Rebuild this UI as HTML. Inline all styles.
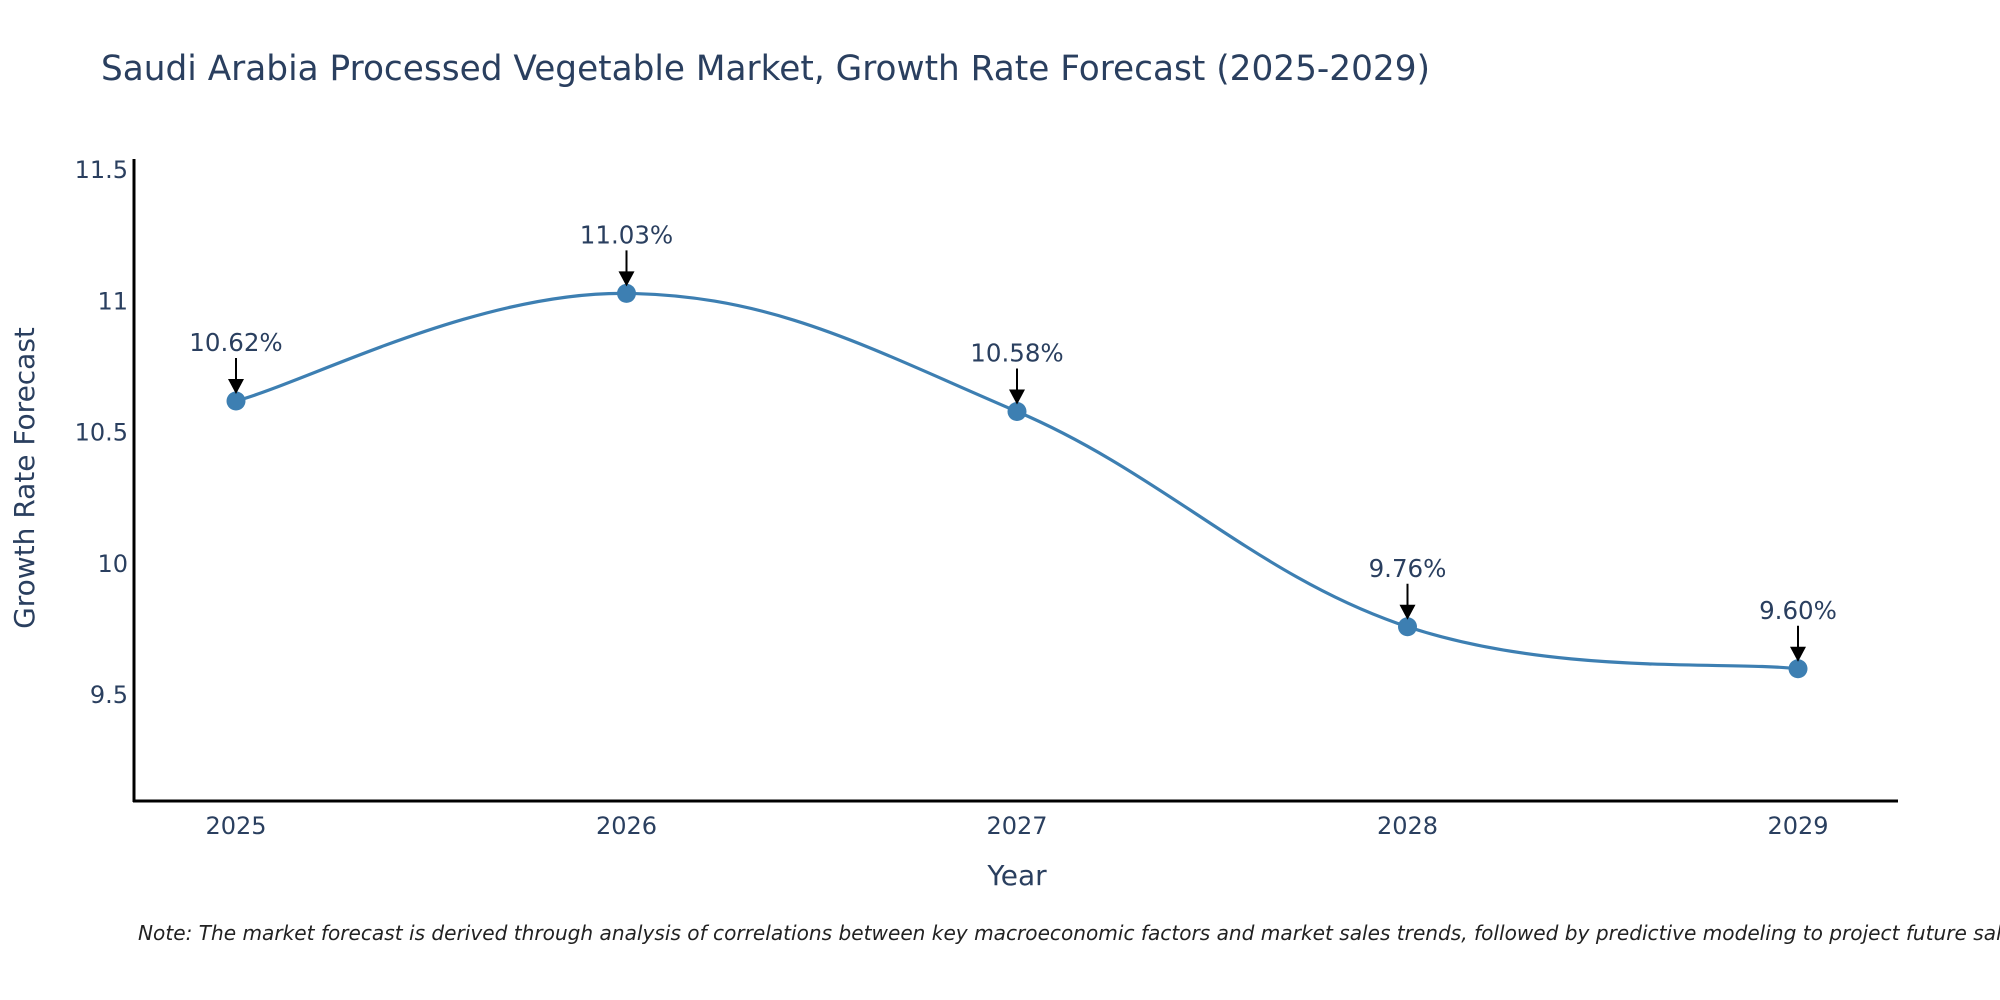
<!DOCTYPE html>
<html><head><meta charset="utf-8"><style>
html,body{margin:0;padding:0;background:#fff;}
svg{display:block;font-family:"DejaVu Sans","Liberation Sans",sans-serif;}
</style></head><body>
<svg id="chart" width="2000" height="1000" viewBox="0 0 2000 1000">
<text x="101" y="80" font-size="34.3" fill="#2a3f5f">Saudi Arabia Processed Vegetable Market, Growth Rate Forecast (2025-2029)</text>
<g id="yticks"></g><g id="xticks"></g>
<path id="series-line" fill="none" stroke="#3d7fb2" stroke-width="3.2"/>
<g id="marks"></g>
<line x1="134" y1="159" x2="134" y2="802" stroke="#000" stroke-width="3"/>
<line x1="133" y1="801" x2="1898" y2="801" stroke="#000" stroke-width="3"/>
<text x="0" y="0" transform="translate(34,478) rotate(-90)" text-anchor="middle" font-size="28" fill="#2a3f5f">Growth Rate Forecast</text>
<text x="1017" y="885" text-anchor="middle" font-size="28" fill="#2a3f5f">Year</text>
<text x="138" y="940" font-size="20.1" font-style="italic" fill="#222">Note: The market forecast is derived through analysis of correlations between key macroeconomic factors and market sales trends, followed by predictive modeling to project future sales.</text>
</svg>
<script>
const years=[2025,2026,2027,2028,2029];
const values=[10.62,11.03,10.58,9.76,9.60];
const labels=["10.62%","11.03%","10.58%","9.76%","9.60%"];
const yTicks=[9.5,10,10.5,11,11.5];
const yTickLabels=["9.5","10","10.5","11","11.5"];
const NS="http://www.w3.org/2000/svg";
function xs(v){return 236+(v-2025)*390.5;}
function ys(v){return 695-(v-9.5)*262.5;}
function mk(t,a,p){const e=document.createElementNS(NS,t);for(const k in a)e.setAttribute(k,a[k]);p.appendChild(e);return e;}
const yt=document.getElementById('yticks');
yTicks.forEach((v,i)=>{const t=mk('text',{x:128,y:ys(v)+8,'text-anchor':'end','font-size':24,fill:'#2a3f5f'},yt);


t.textContent=yTickLabels[i];});
const xt=document.getElementById('xticks');
years.forEach(y=>{const t=mk('text',{x:xs(y),y:834,'text-anchor':'middle','font-size':24,fill:'#2a3f5f'},xt);


t.textContent=String(y);});
const pts=years.map((y,i)=>[xs(y),ys(values[i])]);
let d='M'+pts[0][0]+','+pts[0][1];const s=0.19;
for(let i=0;i<pts.length-1;i++){const p0=pts[Math.max(0,i-1)],p1=pts[i],p2=pts[i+1],p3=pts[Math.min(pts.length-1,i+2)];
const c1=[p1[0]+(p2[0]-p0[0])*s,p1[1]+(p2[1]-p0[1])*s],c2=[p2[0]-(p3[0]-p1[0])*s,p2[1]-(p3[1]-p1[1])*s];
d+=` C${c1[0]},${c1[1]} ${c2[0]},${c2[1]} ${p2[0]},${p2[1]}`;}
document.getElementById('series-line').setAttribute('d',d);
const g=document.getElementById('marks');
pts.forEach((p,i)=>{
const c=mk('circle',{cx:p[0],cy:p[1],r:9.5,fill:'#3d7fb2'},g);


const l=mk('line',{x1:p[0],y1:p[1]-43,x2:p[0],y2:p[1]-20,stroke:'#000','stroke-width':2},g);


const a=mk('path',{d:`M${p[0]-8},${p[1]-22} L${p[0]+8},${p[1]-22} L${p[0]},${p[1]-7} Z`,fill:'#000'},g);


const t=mk('text',{x:p[0],y:p[1]-50,'text-anchor':'middle','font-size':24.5,fill:'#2a3f5f'},g);


t.textContent=labels[i];});
</script>
</body></html>
